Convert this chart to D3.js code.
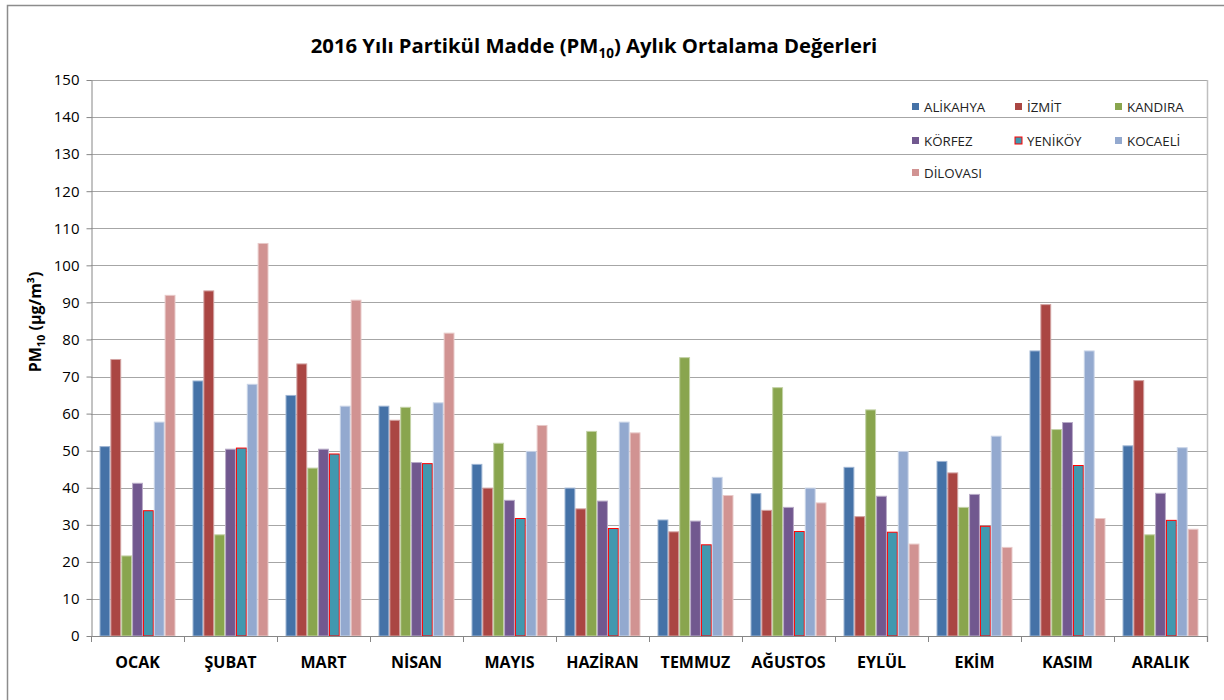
<!DOCTYPE html>
<html>
<head>
<meta charset="utf-8">
<script src="https://cdn.jsdelivr.net/npm/d3@7"></script>
<style>
  html, body { margin: 0; padding: 0; background: #fff; }
  svg { display: block; font-family: "Open Sans", "Noto Sans", sans-serif; }
</style>
</head>
<body>
<svg id="chart" width="1224" height="700"></svg>
<script>
// Monthly mean PM10 values per station, 2016
const months = ["OCAK", "ŞUBAT", "MART", "NİSAN", "MAYIS", "HAZİRAN", "TEMMUZ", "AĞUSTOS", "EYLÜL", "EKİM", "KASIM", "ARALIK"];
const stations = ["ALİKAHYA", "İZMİT", "KANDIRA", "KÖRFEZ", "YENİKÖY", "KOCAELİ", "DİLOVASI"];

const alikahya = [51.1, 68.8, 64.9, 62.0, 46.3, 39.9, 31.3, 38.4, 45.5, 47.1, 76.9, 51.3];
const izmit    = [74.6, 93.1, 73.4, 58.2, 39.9, 34.3, 28.1, 33.9, 32.2, 44.0, 89.4, 68.9];
const kandira  = [21.6, 27.3, 45.3, 61.7, 52.0, 55.2, 75.1, 67.0, 61.0, 34.7, 55.7, 27.3];
const korfez   = [41.2, 50.4, 50.4, 46.8, 36.6, 36.4, 31.0, 34.7, 37.7, 38.2, 57.6, 38.5];
const yenikoy  = [33.8, 50.7, 49.1, 46.5, 31.7, 29.0, 24.6, 28.2, 28.0, 29.6, 46.0, 31.2];
const kocaeli  = [57.7, 67.9, 62.0, 62.9, 49.8, 57.7, 42.8, 39.9, 49.8, 53.9, 76.9, 50.8];
const dilovasi = [91.9, 105.9, 90.6, 81.7, 56.8, 54.8, 37.9, 35.9, 24.8, 23.9, 31.7, 28.8];

const yTicks = d3.range(0, 151, 10);

const seriesValues = [alikahya, izmit, kandira, korfez, yenikoy, kocaeli, dilovasi];
const fills   = ["#4572A7", "#AA4643", "#89A54E", "#71588F", "#4198AF", "#93A9CF", "#D19392"];
const strokes = ["#9db4d3", "#d2a2a1", "#c3d2a6", "#b8abc7", "#ff0000", "#c9d4e7", "#e8c9c8"];

const svg = d3.select("#chart");

// outer chart frame (runs off the right and bottom edges)
svg.append("rect")
  .attr("x", 7.5).attr("y", 5.5)
  .attr("width", 1240).attr("height", 720)
  .attr("fill", "none").attr("stroke", "#8c8c8c").attr("stroke-width", 1.5);

const plot = { left: 91, right: 1207, top: 80, bottom: 636 };

const x = d3.scaleBand()
  .domain(months)
  .range([plot.left, plot.right])
  .paddingInner(0.183)
  .paddingOuter(0.0915);

const xs = d3.scaleBand()
  .domain(stations)
  .range([0, x.bandwidth()]);

const y = d3.scaleLinear()
  .domain([0, 150])
  .range([plot.bottom, plot.top]);

// horizontal gridlines
svg.append("g")
  .selectAll("line")
  .data(yTicks.slice(1))
  .join("line")
  .attr("x1", plot.left).attr("x2", plot.right)
  .attr("y1", d => Math.round(y(d)) + 0.5)
  .attr("y2", d => Math.round(y(d)) + 0.5)
  .attr("stroke", "#a6a6a6").attr("stroke-width", 1);

// right border of plot area
svg.append("line")
  .attr("x1", plot.right + 0.5).attr("x2", plot.right + 0.5)
  .attr("y1", plot.top).attr("y2", plot.bottom + 6)
  .attr("stroke", "#bfbfbf").attr("stroke-width", 1.5);

// bars
const rows = months.map((m, i) => ({
  month: m,
  values: stations.map((s, j) => ({ station: s, index: j, value: seriesValues[j][i] }))
}));

svg.append("g")
  .selectAll("g")
  .data(rows)
  .join("g")
  .attr("transform", d => `translate(${x(d.month)},0)`)
  .selectAll("rect")
  .data(d => d.values)
  .join("rect")
  .attr("x", d => xs(d.station) + 0.5)
  .attr("y", d => y(d.value))
  .attr("width", xs.bandwidth() - 1)
  .attr("height", d => y(0) - y(d.value))
  .attr("fill", d => fills[d.index])
  .attr("stroke", d => strokes[d.index])
  .attr("stroke-width", 1);

// y axis
const yAxis = svg.append("g")
  .attr("transform", `translate(${plot.left + 0.5},0)`)
  .call(d3.axisLeft(y).tickValues(yTicks).tickSize(5).tickSizeOuter(0).tickPadding(7));
yAxis.select(".domain").attr("stroke", "#868686");
yAxis.selectAll(".tick line").attr("stroke", "#868686");
yAxis.selectAll(".tick text")
  .attr("fill", "#000")
  .style("font-size", "15px")
  .style("font-family", "'Open Sans', 'Noto Sans', sans-serif");

// x axis baseline and category separators
const xAxisG = svg.append("g");
xAxisG.append("line")
  .attr("x1", plot.left).attr("x2", plot.right)
  .attr("y1", plot.bottom + 0.5).attr("y2", plot.bottom + 0.5)
  .attr("stroke", "#868686");
const sep = months.map((m, i) => plot.left + i * x.step()).concat([plot.right]);
xAxisG.selectAll("line.sep")
  .data(sep)
  .join("line")
  .attr("class", "sep")
  .attr("x1", d => Math.round(d) + 0.5).attr("x2", d => Math.round(d) + 0.5)
  .attr("y1", plot.bottom).attr("y2", plot.bottom + 6)
  .attr("stroke", "#868686");
xAxisG.selectAll("text")
  .data(months)
  .join("text")
  .attr("x", d => x(d) + x.bandwidth() / 2)
  .attr("y", 668)
  .attr("text-anchor", "middle")
  .style("font-size", "16px")
  .style("font-weight", "bold")
  .text(d => d);

// title
const title = svg.append("text")
  .attr("x", 594).attr("y", 53)
  .attr("text-anchor", "middle")
  .style("font-size", "20.3px")
  .style("font-weight", "bold");
title.append("tspan").text("2016 Yılı Partikül Madde (PM");
title.append("tspan").attr("dy", 5).style("font-size", "13.5px").text("10");
title.append("tspan").attr("dy", -5).text(") Aylık Ortalama Değerleri");

// y axis title
const yTitle = svg.append("text")
  .attr("transform", "translate(41,322) rotate(-90)")
  .attr("text-anchor", "middle")
  .style("font-size", "16px")
  .style("font-weight", "bold");
yTitle.append("tspan").text("PM");
yTitle.append("tspan").attr("dy", 4).style("font-size", "11px").text("10");
yTitle.append("tspan").attr("dy", -4).text(" (µg/m³)");

// legend
const legendPos = [
  [912, 107], [1015, 107], [1115, 107],
  [912, 141], [1015, 141], [1115, 141],
  [912, 173]
];
const legend = svg.append("g")
  .selectAll("g")
  .data(stations)
  .join("g")
  .attr("transform", (d, i) => `translate(${legendPos[i][0]},${legendPos[i][1]})`);
legend.append("rect")
  .attr("x", 0).attr("y", -4)
  .attr("width", 7).attr("height", 7)
  .attr("fill", (d, i) => fills[i])
  .attr("stroke", (d, i) => i === 4 ? "#ff0000" : "none")
  .attr("stroke-width", 1);
legend.append("text")
  .attr("x", 12).attr("y", 5)
  .style("font-size", "13.3px")
  .attr("fill", "#222")
  .text(d => d);
</script>
</body>
</html>
